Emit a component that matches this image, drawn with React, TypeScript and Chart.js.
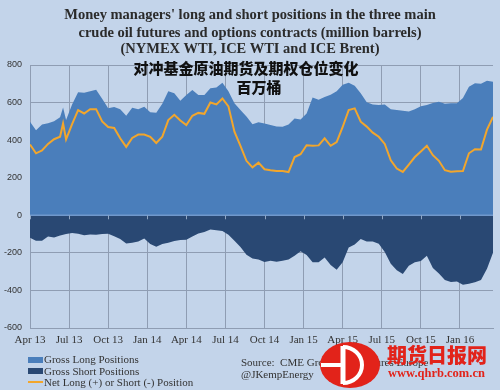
import React, { useEffect, useRef } from "react";
import { Chart, registerables } from "chart.js";

Chart.register(...registerables);

// Week index since the first week of April 2013
const weeks = [0, 2, 4, 6, 8, 10, 11, 12, 14, 16, 18, 20, 22, 24, 26, 28, 30, 32, 34, 36, 38, 40, 42, 44, 46, 48, 50, 52, 54, 56, 58, 60, 62, 64, 66, 68, 70, 72, 74, 76, 78, 80, 82, 84, 86, 88, 90, 92, 94, 96, 98, 100, 102, 104, 106, 108, 110, 112, 114, 116, 118, 120, 122, 124, 126, 128, 130, 132, 134, 136, 138, 140, 142, 144, 146, 148, 150, 152, 154];

const grossLong = [498, 453, 483, 490, 500, 522, 574, 507, 590, 655, 652, 660, 668, 620, 570, 577, 565, 530, 573, 565, 578, 548, 546, 594, 660, 650, 610, 640, 667, 640, 640, 676, 680, 705, 660, 596, 560, 526, 485, 495, 488, 480, 473, 471, 483, 515, 510, 542, 627, 615, 630, 642, 660, 695, 706, 690, 649, 602, 590, 587, 590, 564, 560, 556, 552, 564, 580, 587, 598, 605, 594, 596, 596, 625, 684, 703, 700, 716, 711];

const grossShort = [-120, -135, -135, -113, -118, -107, -103, -100, -94, -98, -106, -102, -103, -100, -98, -112, -126, -150, -146, -140, -124, -153, -168, -153, -146, -137, -132, -130, -113, -97, -89, -76, -79, -83, -104, -135, -169, -210, -230, -235, -249, -242, -248, -242, -235, -215, -192, -212, -250, -250, -225, -265, -290, -250, -172, -155, -126, -140, -140, -152, -195, -258, -293, -312, -268, -250, -244, -215, -280, -310, -345, -355, -352, -370, -365, -356, -345, -284, -200];

const netPosition = [377, 330, 345, 380, 405, 418, 489, 404, 485, 560, 542, 565, 565, 500, 470, 465, 410, 364, 412, 430, 430, 418, 385, 418, 507, 535, 505, 480, 530, 545, 540, 600, 590, 622, 580, 445, 370, 290, 255, 280, 245, 240, 236, 236, 230, 310, 325, 373, 370, 372, 410, 370, 390, 470, 560, 569, 498, 472, 440, 418, 380, 293, 249, 231, 270, 310, 340, 370, 320, 290, 240, 232, 234, 235, 330, 352, 350, 456, 524];

const quarterWeeks = [0, 13, 26, 39, 52, 65, 78, 91, 104, 117, 130, 143];
const quarterLabels = ["Apr 13", "Jul 13", "Oct 13", "Jan 14", "Apr 14", "Jul 14", "Oct 14", "Jan 15", "Apr 15", "Jul 15", "Oct 15", "Jan 16"];

const BG = "#c3d4ea";
const LONG = "#4a7ebb";
const SHORT = "#294873";
const NET = "#f2a62c";
const GRID = "#8f9db3";

const zeroLinePlugin = {
  id: "zeroLine",
  afterDatasetsDraw(chart: any) {
    const { ctx, chartArea, scales } = chart;
    const y0 = scales.y.getPixelForValue(0);
    ctx.save();
    ctx.strokeStyle = "#7098cc";
    ctx.lineWidth = 1.5;
    ctx.beginPath();
    ctx.moveTo(chartArea.left, y0);
    ctx.lineTo(chartArea.right, y0);
    ctx.stroke();
    ctx.strokeStyle = "#8fa6c4";
    ctx.lineWidth = 1;
    quarterWeeks.forEach((w) => {
      const x = Math.round(scales.x.getPixelForValue(w)) + 0.5;
      ctx.beginPath();
      ctx.moveTo(x, y0);
      ctx.lineTo(x, y0 + 4);
      ctx.stroke();
    });
    ctx.restore();
  },
};

function ChartCanvas() {
  const ref = useRef<HTMLCanvasElement | null>(null);
  useEffect(() => {
    if (!ref.current) return;
    const toPts = (vals: number[]) => vals.map((v, i) => ({ x: weeks[i], y: v }));
    const chart = new Chart(ref.current, {
      type: "line",
      data: {
        datasets: [
          {
            label: "Net Long (+) or Short (-) Position",
            data: toPts(netPosition),
            borderColor: NET,
            borderWidth: 2,
            pointRadius: 0,
            fill: false,
            tension: 0,
            order: 0,
          },
          {
            label: "Gross Long Positions",
            data: toPts(grossLong),
            borderWidth: 0,
            borderColor: LONG,
            backgroundColor: LONG,
            pointRadius: 0,
            fill: "origin",
            tension: 0,
            order: 1,
          },
          {
            label: "Gross Short Positions",
            data: toPts(grossShort),
            borderWidth: 0,
            borderColor: SHORT,
            backgroundColor: SHORT,
            pointRadius: 0,
            fill: "origin",
            tension: 0,
            order: 2,
          },
        ],
      },
      options: {
        animation: false,
        responsive: false,
        maintainAspectRatio: false,
        layout: { padding: { top: 65, right: 7, bottom: 42, left: 0 } },
        plugins: {
          legend: { display: false },
          tooltip: { enabled: false },
          title: { display: false },
        },
        scales: {
          x: {
            type: "linear",
            min: 0,
            max: 154,
            afterBuildTicks: (axis: any) => {
              axis.ticks = quarterWeeks.map((v) => ({ value: v }));
            },
            afterFit: (axis: any) => {
              axis.height = 20;
            },
            ticks: {
              autoSkip: false,
              maxRotation: 0,
              padding: 6,
              color: "#333",
              font: { family: "Liberation Serif", size: 11 },
              callback: (value: any) => {
                const idx = quarterWeeks.indexOf(Number(value));
                return idx >= 0 ? quarterLabels[idx] : "";
              },
            },
            grid: { color: GRID, drawTicks: false },
            border: { color: GRID },
          },
          y: {
            min: -600,
            max: 800,
            afterFit: (axis: any) => {
              axis.width = 30;
            },
            ticks: {
              stepSize: 200,
              padding: 8,
              color: "#333",
              font: { family: "Liberation Sans", size: 9 },
            },
            grid: { color: GRID, drawTicks: false },
            border: { color: GRID },
          },
        },
      },
      plugins: [zeroLinePlugin],
    });
    return () => chart.destroy();
  }, []);
  return <canvas ref={ref} width={500} height={390} style={{ position: "absolute", left: 0, top: 0 }} />;
}

export default function App() {
  const serif = "'Liberation Serif', 'DejaVu Serif', serif";
  const titleStyle: React.CSSProperties = {
    position: "absolute",
    left: 0,
    width: 500,
    textAlign: "center",
    fontFamily: serif,
    fontWeight: "bold",
    fontSize: 14.5,
    lineHeight: "16px",
    color: "#2b2b2b",
    whiteSpace: "nowrap",
  };
  const cjk: React.CSSProperties = {
    position: "absolute",
    left: 0,
    textAlign: "center",
    fontFamily: "'Noto Sans CJK SC', sans-serif",
    fontWeight: 900,
    fontSize: 15,
    lineHeight: "20px",
    color: "#111",
    whiteSpace: "nowrap",
  };
  const legendText: React.CSSProperties = {
    position: "absolute",
    left: 44,
    fontFamily: serif,
    fontSize: 11,
    lineHeight: "14px",
    color: "#333",
    whiteSpace: "nowrap",
  };
  return (
    <div style={{ position: "fixed", left: 0, top: 0, width: 500, height: 390, background: BG, overflow: "hidden" }}>
      <ChartCanvas />
      <div style={{ ...titleStyle, top: 6 }}>Money managers' long and short positions in the three main</div>
      <div style={{ ...titleStyle, top: 24 }}>crude oil futures and options contracts (million barrels)</div>
      <div style={{ ...titleStyle, top: 40 }}>(NYMEX WTI, ICE WTI and ICE Brent)</div>
      <div style={{ ...cjk, top: 58, width: 492 }}>对冲基金原油期货及期权仓位变化</div>
      <div style={{ ...cjk, top: 77, width: 518 }}>百万桶</div>

      <div style={{ position: "absolute", left: 28, top: 357, width: 15, height: 6, background: LONG }} />
      <div style={{ ...legendText, top: 352 }}>Gross Long Positions</div>
      <div style={{ position: "absolute", left: 28, top: 368, width: 15, height: 6, background: SHORT }} />
      <div style={{ ...legendText, top: 364 }}>Gross Short Positions</div>
      <div style={{ position: "absolute", left: 28, top: 381, width: 15, height: 2, background: NET }} />
      <div style={{ ...legendText, top: 375 }}>Net Long (+) or Short (-) Position</div>

      <div style={{ ...legendText, left: 241, top: 355 }}>Source:&nbsp; CME Group, ICE Futures Europe</div>
      <div style={{ ...legendText, left: 241, top: 367 }}>@JKempEnergy</div>

      <svg width={500} height={390} style={{ position: "absolute", left: 0, top: 0 }}>
        <ellipse cx={350} cy={365} rx={30} ry={23} fill="#e2231a" />
        <path d="M343 347 A 19 18 0 0 1 343 383" stroke="#fff" strokeWidth={4} fill="none" />
        <line x1={343} y1={346} x2={343} y2={384} stroke="#fff" strokeWidth={5} />
        <line x1={321} y1={365} x2={343} y2={365} stroke="#fff" strokeWidth={4} />
      </svg>
      <div
        style={{
          position: "absolute",
          left: 387,
          top: 343,
          fontFamily: "'Noto Sans CJK SC', sans-serif",
          fontWeight: 900,
          fontSize: 20,
          lineHeight: "24px",
          color: "#e2231a",
          whiteSpace: "nowrap",
        }}
      >
        期货日报网
      </div>
      <div
        style={{
          position: "absolute",
          left: 388,
          top: 366,
          fontFamily: serif,
          fontWeight: "bold",
          fontSize: 12.5,
          lineHeight: "14px",
          color: "#e2231a",
          whiteSpace: "nowrap",
        }}
      >
        www.qhrb.com.cn
      </div>
    </div>
  );
}
